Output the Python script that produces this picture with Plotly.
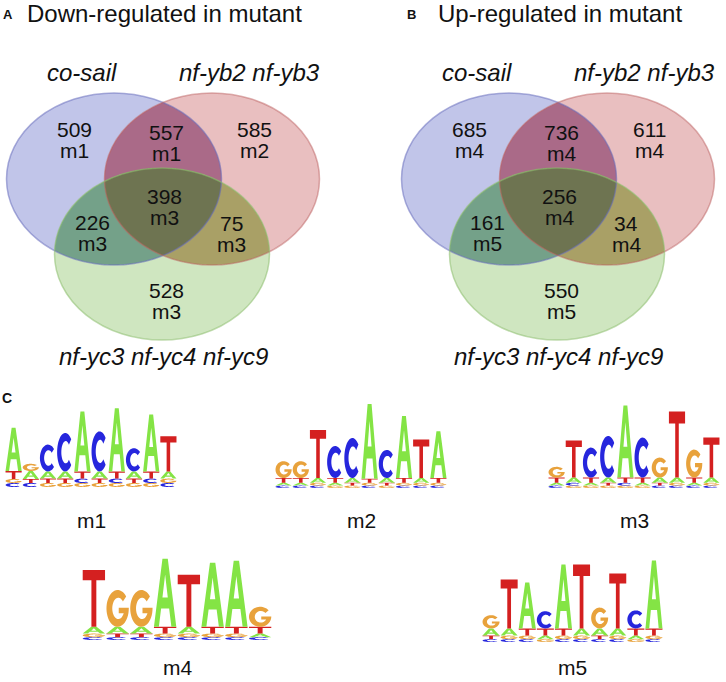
import numpy as np
import plotly.graph_objects as go

# ------------------------------------------------------------------ data
set_labels = ["co-sail", "nf-yb2 nf-yb3", "nf-yc3 nf-yc4 nf-yc9"]
region_keys = ["co", "co_yb", "yb", "co_yc", "all", "yb_yc", "yc"]
down_counts = [509, 557, 585, 226, 398, 75, 528]
down_motifs = ["m1", "m1", "m2", "m3", "m3", "m3", "m3"]
up_counts = [685, 736, 611, 161, 256, 34, 550]
up_motifs = ["m4", "m4", "m4", "m5", "m4", "m4", "m5"]
panel_titles = ["Down-regulated in mutant", "Up-regulated in mutant"]
panel_letters = ["A", "B"]

motif_names = ["m1", "m2", "m3", "m4", "m5"]
# letter stacks per position, bottom -> top, heights in bits
m1_letters = ["CGTA", "CTAG", "GTAC", "GTAC", "GCTA", "GTAC", "GCTA", "GTAC", "GCTA", "CGAT"]
m1_heights = [[0.10, 0.10, 0.20, 1.08], [0.10, 0.10, 0.20, 0.18], [0.10, 0.11, 0.18, 0.67],
              [0.10, 0.11, 0.18, 0.96], [0.10, 0.11, 0.18, 1.50], [0.10, 0.11, 0.18, 1.00],
              [0.10, 0.11, 0.18, 1.58], [0.10, 0.11, 0.18, 0.58], [0.10, 0.11, 0.18, 1.42],
              [0.10, 0.11, 0.18, 0.88]]
m2_letters = ["CATG", "CATG", "CGAT", "GATC", "GTAC", "CGTA", "GTAC", "CGTA", "CGAT", "CGTA"]
m2_heights = [[0.06, 0.07, 0.12, 0.42], [0.06, 0.07, 0.12, 0.42], [0.06, 0.07, 0.12, 1.20],
              [0.06, 0.07, 0.12, 0.80], [0.06, 0.07, 0.12, 1.00], [0.06, 0.07, 0.10, 1.88],
              [0.06, 0.07, 0.12, 0.70], [0.06, 0.07, 0.12, 1.55], [0.06, 0.07, 0.12, 0.96],
              [0.06, 0.07, 0.12, 1.17]]
m3_letters = ["CATG", "GCAT", "GATC", "GTAC", "GCTA", "GATC", "CTAG", "CGAT", "CATG", "CGAT"]
m3_heights = [[0.06, 0.07, 0.13, 0.27], [0.06, 0.07, 0.13, 0.93], [0.06, 0.07, 0.13, 0.75],
              [0.06, 0.07, 0.13, 1.04], [0.06, 0.07, 0.13, 1.80], [0.06, 0.07, 0.13, 1.00],
              [0.06, 0.07, 0.13, 0.50], [0.06, 0.07, 0.13, 1.65], [0.06, 0.07, 0.13, 0.70],
              [0.06, 0.07, 0.13, 1.00]]
m4_letters = ["CGAT", "CTAG", "CTAG", "CGTA", "CGAT", "CGTA", "CGTA", "CATG"]
m4_heights = [[0.07, 0.09, 0.17, 1.42], [0.07, 0.09, 0.17, 0.92], [0.07, 0.09, 0.17, 0.92],
              [0.07, 0.09, 0.17, 1.70], [0.07, 0.09, 0.17, 1.30], [0.07, 0.09, 0.17, 1.60],
              [0.07, 0.09, 0.17, 1.65], [0.07, 0.09, 0.17, 0.50]]
m5_letters = ["CTAG", "CGAT", "CGTA", "GATC", "CGTA", "CGAT", "CTAG", "CGAT", "GATC", "CGTA"]
m5_heights = [[0.07, 0.09, 0.18, 0.33], [0.07, 0.09, 0.18, 1.22], [0.07, 0.09, 0.18, 1.15],
              [0.07, 0.09, 0.18, 0.43], [0.07, 0.09, 0.18, 1.60], [0.07, 0.09, 0.18, 1.60],
              [0.07, 0.09, 0.18, 0.52], [0.07, 0.09, 0.18, 1.37], [0.07, 0.09, 0.18, 0.45],
              [0.07, 0.09, 0.18, 1.70]]

# ------------------------------------------------------------------ layout / style
W, H = 726, 682
FONT = "Liberation Sans, Arial, Helvetica, sans-serif"
venn_offsets = [0, 395]
RX, RY = 107.5, 86.0
centers = [(114.0, 179.0), (212.0, 179.0), (162.0, 254.0)]
single_fill = ["#C1C5E9", "#E9BFC0", "#CFE6C0"]
outline_col = ["rgba(105,112,190,0.55)", "rgba(190,100,100,0.5)", "rgba(140,190,110,0.55)"]
pair_fill = {(0, 1): "#AA6A88", (0, 2): "#74A189", (1, 2): "#A9A066"}
triple_fill = "#6E7451"
region_xy = {"co": (74, 129), "co_yb": (166, 132), "yb": (254, 129), "co_yc": (92, 222),
             "all": (164, 196), "yb_yc": (231, 223), "yc": (166, 290)}
set_label_xy = [(82, 72), (249, 72), (163, 356)]
panel_letter_x = [8, 411]
title_x = [25, 436]

letter_colors = {"A": "#84E445", "C": "#2626DD", "G": "#E8A23C", "T": "#D42020"}
# logo boxes: (x_left, x_right, baseline_y) in page pixels
logo_boxes = {"m1": (5, 177, 487), "m2": (275, 447, 488), "m3": (548, 720, 488),
              "m4": (82, 272, 640), "m5": (482, 663, 642)}
logo_label_xy = {"m1": (91, 520), "m2": (361, 520), "m3": (634, 520),
                 "m4": (177, 667), "m5": (572, 667)}
PX_PER_BIT = 40.0
YMAX = 2.1

motif_data = {"m1": (m1_letters, m1_heights), "m2": (m2_letters, m2_heights),
              "m3": (m3_letters, m3_heights), "m4": (m4_letters, m4_heights),
              "m5": (m5_letters, m5_heights)}


def letter_polys(ch):
    if ch == "T":
        return [[(0, 1), (1, 1), (1, 0.82), (0.61, 0.82), (0.61, 0), (0.39, 0), (0.39, 0.82), (0, 0.82)]]
    if ch == "A":
        outer = [(0, 0), (0.38, 1), (0.62, 1), (1, 0), (0.78, 0), (0.68, 0.27), (0.32, 0.27), (0.22, 0)]
        hole = [(0.38, 0.43), (0.62, 0.43), (0.5, 0.77)]
        return [outer, hole]
    if ch == "C":
        t1 = np.radians(np.linspace(42, 318, 40))
        outer = [(0.5 + 0.5 * np.cos(t), 0.5 + 0.5 * np.sin(t)) for t in t1]
        inner = [(0.53 + 0.27 * np.cos(t), 0.5 + 0.29 * np.sin(t)) for t in t1[::-1]]
        return [outer + inner]
    # G
    t1 = np.radians(np.linspace(40, 360, 44))
    outer = [(0.5 + 0.5 * np.cos(t), 0.5 + 0.5 * np.sin(t)) for t in t1]
    bar = [(1.0, 0.52), (0.55, 0.52), (0.55, 0.37), (0.77, 0.37)]
    t2 = np.radians(np.linspace(335, 40, 40))
    inner = [(0.53 + 0.27 * np.cos(t), 0.5 + 0.29 * np.sin(t)) for t in t2]
    return [outer + bar + inner]


def glyph_path(ch, x0, x1, y0, h):
    parts = []
    for poly in letter_polys(ch):
        pts = ["%.4f,%.4f" % (x0 + u * (x1 - x0), y0 + v * h) for u, v in poly]
        parts.append("M" + " L".join(pts) + " Z")
    return " ".join(parts)


def ellipse_pts(c, n=900):
    t = np.linspace(0, 2 * np.pi, n, endpoint=False)
    return np.column_stack([c[0] + RX * np.cos(t), c[1] + RY * np.sin(t)])


def inside(P, c):
    return ((P[:, 0] - c[0]) / RX) ** 2 + ((P[:, 1] - c[1]) / RY) ** 2 <= 1.0 + 1e-9


def intersection_path(idx, cs):
    pts = []
    for i in idx:
        P = ellipse_pts(cs[i])
        m = np.ones(len(P), bool)
        for j in idx:
            if j != i:
                m &= inside(P, cs[j])
        pts.append(P[m])
    P = np.vstack(pts)
    cen = P.mean(axis=0)
    order = np.argsort(np.arctan2(P[:, 1] - cen[1], P[:, 0] - cen[0]))
    P = P[order]
    return "M" + " L".join("%.2f,%.2f" % (x, y) for x, y in P) + " Z"


fig = go.Figure()
shapes = []
annotations = []

# page axis (pixel-like coordinates)
fig.add_trace(go.Scatter(x=[0, W], y=[0, H], mode="markers", marker=dict(opacity=0),
                         hoverinfo="skip", showlegend=False, xaxis="x", yaxis="y"))

# ------------------------------------------------------------------ Venn diagrams
counts_all = [down_counts, up_counts]
motifs_all = [down_motifs, up_motifs]
for p in range(2):
    off = venn_offsets[p]
    cs = [(cx + off, cy) for cx, cy in centers]
    for i in (0, 1):
        cx, cy = cs[i]
        shapes.append(dict(type="circle", xref="x", yref="y", x0=cx - RX, x1=cx + RX,
                           y0=cy - RY, y1=cy + RY, fillcolor=single_fill[i], line=dict(width=0),
                           layer="below"))
    shapes.append(dict(type="path", xref="x", yref="y", path=intersection_path([0, 1], cs),
                       fillcolor=pair_fill[(0, 1)], line=dict(width=0), layer="below"))
    cx, cy = cs[2]
    shapes.append(dict(type="circle", xref="x", yref="y", x0=cx - RX, x1=cx + RX,
                       y0=cy - RY, y1=cy + RY, fillcolor=single_fill[2], line=dict(width=0),
                       layer="below"))
    for pair in [(0, 2), (1, 2)]:
        shapes.append(dict(type="path", xref="x", yref="y", path=intersection_path(list(pair), cs),
                           fillcolor=pair_fill[pair], line=dict(width=0), layer="below"))
    shapes.append(dict(type="path", xref="x", yref="y", path=intersection_path([0, 1, 2], cs),
                       fillcolor=triple_fill, line=dict(width=0), layer="below"))
    for i in range(3):
        cx, cy = cs[i]
        shapes.append(dict(type="circle", xref="x", yref="y", x0=cx - RX, x1=cx + RX,
                           y0=cy - RY, y1=cy + RY, fillcolor="rgba(0,0,0,0)",
                           line=dict(color=outline_col[i], width=1.5), layer="below"))

    annotations.append(dict(x=panel_letter_x[p], y=14, xref="x", yref="y", text="<b>%s</b>" % panel_letters[p],
                            showarrow=False, font=dict(size=13, family=FONT, color="#111"),
                            xanchor="center", yanchor="middle"))
    annotations.append(dict(x=title_x[p], y=13, xref="x", yref="y", text=panel_titles[p],
                            showarrow=False, font=dict(size=24, family=FONT, color="#111"),
                            xanchor="left", yanchor="middle"))
    for k, name in enumerate(set_labels):
        lx, ly = set_label_xy[k]
        annotations.append(dict(x=lx + off, y=ly, xref="x", yref="y", text="<i>%s</i>" % name,
                                showarrow=False, font=dict(size=24, family=FONT, color="#111"),
                                xanchor="center", yanchor="middle"))
    for k, key in enumerate(region_keys):
        rx_, ry_ = region_xy[key]
        annotations.append(dict(x=rx_ + off, y=ry_, xref="x", yref="y", text=str(counts_all[p][k]),
                                showarrow=False, font=dict(size=21, family=FONT, color="#111"),
                                xanchor="center", yanchor="middle"))
        annotations.append(dict(x=rx_ + off, y=ry_ + 21, xref="x", yref="y", text=motifs_all[p][k],
                                showarrow=False, font=dict(size=21, family=FONT, color="#111"),
                                xanchor="center", yanchor="middle"))

annotations.append(dict(x=7, y=398, xref="x", yref="y", text="<b>C</b>", showarrow=False,
                        font=dict(size=14, family=FONT, color="#111"), xanchor="center", yanchor="middle"))

# ------------------------------------------------------------------ sequence logos
layout_axes = {}
for k, name in enumerate(motif_names):
    ax = k + 2
    letters, heights = motif_data[name]
    n = len(letters)
    xl, xr, base = logo_boxes[name]
    top = base - YMAX * PX_PER_BIT
    layout_axes["xaxis%d" % ax] = dict(domain=[xl / W, xr / W], range=[0.5, n + 0.5], anchor="y%d" % ax,
                                       visible=False, fixedrange=True)
    layout_axes["yaxis%d" % ax] = dict(domain=[1 - base / H, 1 - top / H], range=[0, YMAX], anchor="x%d" % ax,
                                       visible=False, fixedrange=True)
    totals = [sum(h) for h in heights]
    fig.add_trace(go.Scatter(x=list(range(1, n + 1)), y=totals, mode="markers", marker=dict(opacity=0),
                             hoverinfo="skip", showlegend=False, xaxis="x%d" % ax, yaxis="y%d" % ax))
    for i in range(n):
        y0 = 0.0
        for ch, h in zip(letters[i], heights[i]):
            pos = i + 1
            shapes.append(dict(type="path", xref="x%d" % ax, yref="y%d" % ax,
                               path=glyph_path(ch, pos - 0.47, pos + 0.47, y0, h),
                               fillcolor=letter_colors[ch], line=dict(width=0), layer="above"))
            y0 += h
    lx, ly = logo_label_xy[name]
    annotations.append(dict(x=lx, y=ly, xref="x", yref="y", text=name, showarrow=False,
                            font=dict(size=21, family=FONT, color="#111"), xanchor="center", yanchor="middle"))

fig.update_layout(
    width=W, height=H, margin=dict(l=0, r=0, t=0, b=0),
    paper_bgcolor="white", plot_bgcolor="rgba(0,0,0,0)",
    xaxis=dict(domain=[0, 1], range=[0, W], visible=False, fixedrange=True),
    yaxis=dict(domain=[0, 1], range=[H, 0], visible=False, fixedrange=True),
    shapes=shapes, annotations=annotations, showlegend=False,
    **layout_axes,
)

fig.write_html("out.html", config={"displayModeBar": False},
               post_script="document.body.style.margin='0';document.body.style.overflow='hidden';")
